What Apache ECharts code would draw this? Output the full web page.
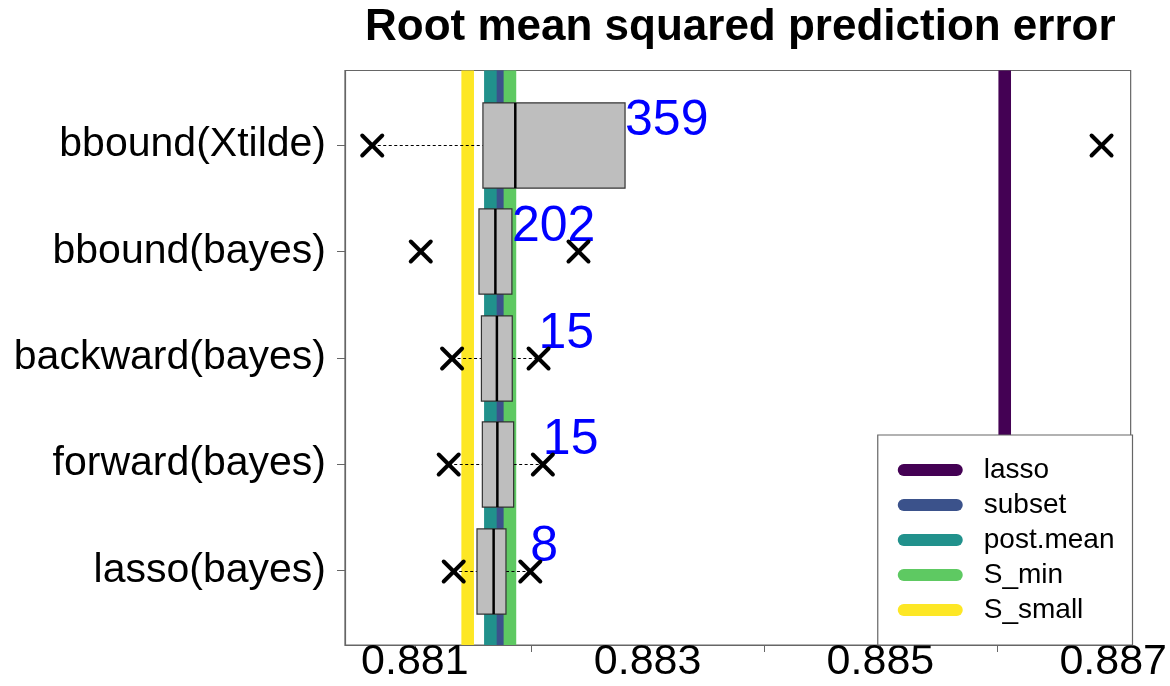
<!DOCTYPE html>
<html>
<head>
<meta charset="utf-8">
<script src="https://cdn.jsdelivr.net/npm/echarts@6/dist/echarts.min.js"></script>
<style>
  html, body { margin: 0; padding: 0; background: #fff; }
  #chart { width: 1170px; height: 686px; }
</style>
</head>
<body>
<div id="chart"></div>
<script>
// Methods, listed top to bottom
const methods = ['bbound(Xtilde)', 'bbound(bayes)', 'backward(bayes)', 'forward(bayes)', 'lasso(bayes)'];

// Box statistics per method (RMSPE)
const q1Vals     = [0.881585, 0.881551, 0.881572, 0.881580, 0.881534];
const medianVals = [0.881863, 0.881692, 0.881705, 0.881709, 0.881677];
const q3Vals     = [0.882806, 0.881834, 0.881837, 0.881849, 0.881783];
const whiskerLo  = [0.880634, 0.881551, 0.881320, 0.881291, 0.881334];
const whiskerHi  = [0.882806, 0.881834, 0.882063, 0.882100, 0.881992];
const minVals    = [0.880634, 0.881051, 0.881320, 0.881291, 0.881334];
const maxVals    = [0.886900, 0.882406, 0.882063, 0.882100, 0.881992];
const counts     = [359, 202, 15, 15, 8];

// Reference estimators drawn as vertical lines
const refNames  = ['lasso', 'subset', 'post.mean', 'S_min', 'S_small'];
const refValues = [0.886068, 0.881733, 0.881649, 0.881817, 0.881454];
const refColors = ['#440154', '#3b528b', '#21918c', '#5ec962', '#fde725'];

// Axis ticks
const xLabelTicks = [0.881, 0.883, 0.885, 0.887];
const xMinorTicks = [0.881, 0.882, 0.883, 0.884, 0.885, 0.886, 0.887];
const yTicks = [1, 2, 3, 4, 5];

const Y_MIN = 0.3, Y_MAX = 5.7;
const FONT = "'Liberation Sans', Arial, Helvetica, sans-serif";
const n = methods.length;
const yPos = i => n - i;   // first method at the top

const boxData = methods.map((m, i) => [
  yPos(i), q1Vals[i], medianVals[i], q3Vals[i],
  whiskerLo[i], whiskerHi[i], minVals[i], maxVals[i], counts[i]
]);

function cross(cx, cy, r) {
  const st = { stroke: '#000', lineWidth: 4, lineCap: 'round' };
  return [
    { type: 'line', shape: { x1: cx - r, y1: cy - r, x2: cx + r, y2: cy + r }, style: st },
    { type: 'line', shape: { x1: cx - r, y1: cy + r, x2: cx + r, y2: cy - r }, style: st }
  ];
}

function renderBox(params, api) {
  const y = api.value(0);
  const pQ1 = api.coord([api.value(1), y]);
  const pMed = api.coord([api.value(2), y]);
  const pQ3 = api.coord([api.value(3), y]);
  const pWlo = api.coord([api.value(4), y]);
  const pWhi = api.coord([api.value(5), y]);
  const pMin = api.coord([api.value(6), y]);
  const pMax = api.coord([api.value(7), y]);
  const half = api.size([0, 0.4])[1];
  const cy = Math.round(pQ1[1]) + 0.5;
  const top = cy - half, bottom = cy + half;
  const children = [];
  const dash = { stroke: '#000', lineWidth: 1.2, lineDash: [3, 2.5] };
  if (pWlo[0] < pQ1[0] - 0.5) {
    children.push({ type: 'line', shape: { x1: pWlo[0], y1: cy, x2: pQ1[0], y2: cy }, style: dash });
  }
  if (pWhi[0] > pQ3[0] + 0.5) {
    children.push({ type: 'line', shape: { x1: pQ3[0], y1: cy, x2: pWhi[0], y2: cy }, style: dash });
  }
  children.push({
    type: 'rect',
    shape: { x: pQ1[0], y: top, width: pQ3[0] - pQ1[0], height: bottom - top },
    style: { fill: '#bebebe', stroke: '#333', lineWidth: 1.2 }
  });
  children.push({
    type: 'line',
    shape: { x1: pMed[0], y1: top, x2: pMed[0], y2: bottom },
    style: { stroke: '#000', lineWidth: 2.5 }
  });
  children.push({
    type: 'text',
    x: pWhi[0], y: top - 6.5,
    style: {
      text: String(api.value(8)), fill: '#0000ff',
      font: '50px ' + FONT, align: 'left', verticalAlign: 'top'
    }
  });
  children.push(...cross(pMin[0], cy, 10));
  children.push(...cross(pMax[0], cy, 10));
  return { type: 'group', children };
}

// Each reference value is a full-height vertical line across the plot
const refSeries = refNames.map((name, i) => ({
  name,
  type: 'line',
  data: [[refValues[i], Y_MIN], [refValues[i], Y_MAX]],
  color: refColors[i],
  showSymbol: false,
  symbol: 'none',
  silent: true,
  z: 2,
  lineStyle: { color: refColors[i], width: 12.6, cap: 'butt' }
}));

const chart = echarts.init(document.getElementById('chart'), null, { renderer: 'canvas' });
chart.setOption({
  animation: false,
  backgroundColor: '#fff',
  title: {
    text: 'Root mean squared prediction error',
    left: 365, top: 6, padding: 0,
    textStyle: { fontFamily: FONT, fontSize: 44, fontWeight: 'bold', color: '#000' }
  },
  grid: {
    left: 345, right: 37.5, top: 70.5, bottom: 41,
    show: true, borderColor: '#666', borderWidth: 1.2, backgroundColor: 'transparent'
  },
  legend: {
    data: refNames,
    orient: 'vertical',
    right: 37.5, bottom: 41,
    backgroundColor: '#fff',
    borderColor: '#666', borderWidth: 1.2, borderRadius: 0,
    padding: [20, 18, 20, 20],
    itemWidth: 65, itemHeight: 12, itemGap: 5,
    icon: 'path://M6,0 L59,0 A6,6 0 0 1 59,12 L6,12 A6,6 0 0 1 6,0 Z',
    textStyle: { fontFamily: FONT, fontSize: 28, lineHeight: 30, color: '#000', padding: [0, 0, 0, 16] }
  },
  xAxis: {
    type: 'value',
    min: 0.8804, max: 0.88715,
    axisLine: { show: true, lineStyle: { color: '#666', width: 1.2 } },
    axisTick: { show: true, length: 7, customValues: xMinorTicks, lineStyle: { color: '#666' } },
    axisLabel: {
      customValues: xLabelTicks, margin: -4,
      fontFamily: FONT, fontSize: 43, color: '#000',
      formatter: v => v.toFixed(3)
    },
    splitLine: { show: false }
  },
  yAxis: {
    type: 'value',
    min: Y_MIN, max: Y_MAX,
    axisLine: { show: true, lineStyle: { color: '#666', width: 1.2 } },
    axisTick: { show: true, length: 8, customValues: yTicks, lineStyle: { color: '#666' } },
    axisLabel: {
      customValues: yTicks, margin: 19,
      fontFamily: FONT, fontSize: 41, color: '#000',
      formatter: v => methods[n - Math.round(v)] || ''
    },
    splitLine: { show: false }
  },
  series: [
    ...refSeries,
    {
      type: 'custom',
      name: 'rmspe',
      z: 3,
      clip: false,
      renderItem: renderBox,
      encode: { x: [1, 2, 3, 4, 5, 6, 7], y: 0 },
      data: boxData
    }
  ]
});
</script>
</body>
</html>
